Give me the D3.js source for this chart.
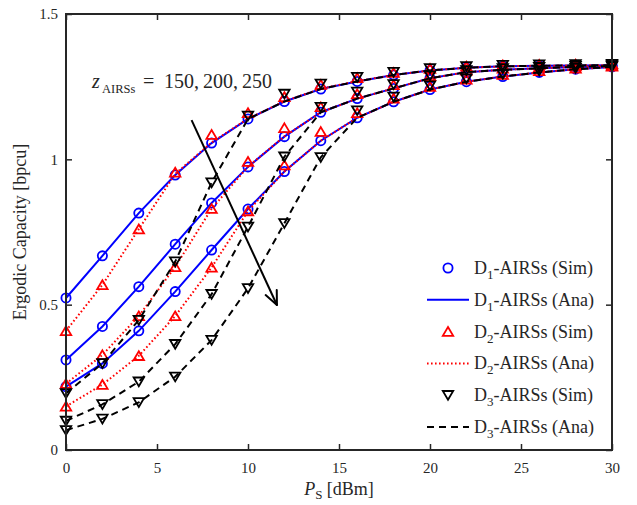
<!DOCTYPE html>
<html>
<head>
  <meta charset="utf-8">
  <title>Ergodic Capacity</title>
  <script src="https://d3js.org/d3.v7.min.js"></script>
  <style>
    body { margin: 0; background: #fff; }
    text { font-family: "Liberation Serif", "Times New Roman", serif; fill: #262626; }
  </style>
</head>
<body>

  <svg width="637" height="505"></svg>

  <script>

    // Transmit power samples (dBm)
    const powerDbm = [0, 2, 4, 6, 8, 10, 12, 14, 16, 18, 20, 22, 24, 26, 28, 30];

    // Tick labels
    const xTicks = [0, 5, 10, 15, 20, 25, 30];
    const yTicks = [0, 0.5, 1, 1.5];

    // D1-AIRSs, analysis and simulation coincide, z = 150, 200, 250
    const d1Z150 = [0.523, 0.668, 0.815, 0.946, 1.056, 1.139, 1.199, 1.242, 1.268, 1.290, 1.306, 1.315, 1.320, 1.322, 1.323, 1.324];
    const d1Z200 = [0.310, 0.425, 0.562, 0.708, 0.850, 0.974, 1.078, 1.162, 1.209, 1.244, 1.279, 1.300, 1.308, 1.313, 1.318, 1.321];
    const d1Z250 = [0.218, 0.298, 0.410, 0.545, 0.688, 0.829, 0.958, 1.064, 1.143, 1.198, 1.240, 1.267, 1.285, 1.299, 1.310, 1.318];

    // D2-AIRSs analysis
    const d2AnaZ150 = [0.410, 0.568, 0.760, 0.950, 1.058, 1.140, 1.200, 1.243, 1.269, 1.290, 1.306, 1.315, 1.320, 1.322, 1.323, 1.324];
    const d2AnaZ200 = [0.228, 0.327, 0.461, 0.630, 0.830, 0.975, 1.079, 1.162, 1.209, 1.244, 1.279, 1.300, 1.308, 1.313, 1.318, 1.321];
    const d2AnaZ250 = [0.150, 0.225, 0.324, 0.461, 0.628, 0.822, 0.958, 1.064, 1.143, 1.198, 1.240, 1.267, 1.285, 1.299, 1.310, 1.318];
    // D2-AIRSs simulation
    const d2SimZ150 = [0.410, 0.568, 0.760, 0.955, 1.085, 1.160, 1.215, 1.257, 1.280, 1.298, 1.312, 1.320, 1.324, 1.326, 1.327, 1.328];
    const d2SimZ200 = [0.228, 0.327, 0.461, 0.630, 0.830, 0.992, 1.108, 1.180, 1.225, 1.256, 1.287, 1.306, 1.313, 1.317, 1.321, 1.323];
    const d2SimZ250 = [0.150, 0.225, 0.324, 0.461, 0.628, 0.822, 0.980, 1.095, 1.160, 1.210, 1.250, 1.275, 1.291, 1.304, 1.313, 1.320];

    // D3-AIRSs analysis
    const d3AnaZ150 = [0.195, 0.298, 0.447, 0.648, 0.920, 1.139, 1.199, 1.242, 1.268, 1.290, 1.306, 1.315, 1.320, 1.322, 1.323, 1.324];
    const d3AnaZ200 = [0.100, 0.157, 0.235, 0.364, 0.536, 0.768, 1.009, 1.162, 1.209, 1.244, 1.279, 1.300, 1.308, 1.313, 1.318, 1.321];
    const d3AnaZ250 = [0.068, 0.107, 0.164, 0.252, 0.378, 0.556, 0.780, 1.007, 1.143, 1.198, 1.240, 1.267, 1.285, 1.299, 1.310, 1.318];
    // D3-AIRSs simulation
    const d3SimZ150 = [0.195, 0.298, 0.447, 0.648, 0.920, 1.150, 1.225, 1.260, 1.283, 1.300, 1.313, 1.320, 1.324, 1.326, 1.327, 1.328];
    const d3SimZ200 = [0.100, 0.157, 0.235, 0.364, 0.536, 0.768, 1.009, 1.180, 1.232, 1.258, 1.288, 1.306, 1.313, 1.317, 1.321, 1.323];
    const d3SimZ250 = [0.068, 0.107, 0.164, 0.252, 0.378, 0.556, 0.780, 1.007, 1.168, 1.215, 1.254, 1.278, 1.293, 1.305, 1.314, 1.320];

    const legendLabels = ["1", "1", "2", "2", "3", "3"];

    const groups = [
      { id: "1", color: "#0000ff", marker: "circle", dash: null, width: 2,
        sim: [d1Z150, d1Z200, d1Z250], ana: [d1Z150, d1Z200, d1Z250] },
      { id: "2", color: "#ff0000", marker: "up", dash: "1.6,2.4", width: 2,
        sim: [d2SimZ150, d2SimZ200, d2SimZ250], ana: [d2AnaZ150, d2AnaZ200, d2AnaZ250] },
      { id: "3", color: "#000000", marker: "down", dash: "7,5", width: 2,
        sim: [d3SimZ150, d3SimZ200, d3SimZ250], ana: [d3AnaZ150, d3AnaZ200, d3AnaZ250] }
    ];

    // Plot box in pixels
    const margin = { top: 14, right: 25, bottom: 55, left: 66 };
    const width = 637, height = 505;
    const svg = d3.select("svg");

    const x = d3.scaleLinear().domain([0, 30]).range([margin.left, width - margin.right]);
    const y = d3.scaleLinear().domain([0, 1.5]).range([height - margin.bottom, margin.top]);

    const axisColor = "#262626";

    // Marker shapes (centred on bounding box, like MATLAB)
    function markerPath(type) {
      if (type === "up") return "M0,-4.6L5.2,4.2L-5.2,4.2Z";
      if (type === "down") return "M0,4.6L5.2,-4.2L-5.2,-4.2Z";
      return null;
    }

    function drawMarkers(g, type, color, px, py) {
      if (type === "circle") {
        g.append("circle").attr("cx", px).attr("cy", py).attr("r", 4.6)
          .attr("fill", "none").attr("stroke", color).attr("stroke-width", 1.8);
      } else {
        g.append("path").attr("transform", `translate(${px},${py})`)
          .attr("d", markerPath(type))
          .attr("fill", "none").attr("stroke", color).attr("stroke-width", 1.8)
          .attr("stroke-linejoin", "miter");
      }
    }

    const line = d3.line()
      .x((d, i) => x(powerDbm[i]))
      .y(d => y(d));

    const plot = svg.append("g");

    // Simulation markers then analysis lines, per scheme
    groups.forEach(gr => {
      const mg = plot.append("g");
      gr.sim.forEach(series => {
        series.forEach((v, i) => drawMarkers(mg, gr.marker, gr.color, x(powerDbm[i]), y(v)));
      });
      gr.ana.forEach(series => {
        plot.append("path")
          .datum(series)
          .attr("fill", "none")
          .attr("stroke", gr.color)
          .attr("stroke-width", gr.width)
          .attr("stroke-dasharray", gr.dash)
          .attr("d", line);
      });
    });

    // Axes with inward ticks on all four sides
    const fmt = d3.format("~g");
    const axB = svg.append("g").attr("transform", `translate(0,${y(0)})`)
      .call(d3.axisBottom(x).tickValues(xTicks).tickFormat(fmt).tickSizeInner(-6).tickSizeOuter(0).tickPadding(12));
    const axT = svg.append("g").attr("transform", `translate(0,${y(1.5)})`)
      .call(d3.axisTop(x).tickValues(xTicks).tickFormat("").tickSizeInner(-6).tickSizeOuter(0));
    const axL = svg.append("g").attr("transform", `translate(${x(0)},0)`)
      .call(d3.axisLeft(y).tickValues(yTicks).tickFormat(fmt).tickSizeInner(-6).tickSizeOuter(0).tickPadding(8));
    const axR = svg.append("g").attr("transform", `translate(${x(30)},0)`)
      .call(d3.axisRight(y).tickValues(yTicks).tickFormat("").tickSizeInner(-6).tickSizeOuter(0));

    [axB, axT, axL, axR].forEach(a => {
      a.selectAll(".domain").remove();
      a.selectAll(".tick line").attr("stroke", axisColor).attr("stroke-width", 1.5);
      a.selectAll(".tick text").attr("fill", axisColor)
        .style("font-family", "'Liberation Serif', serif").style("font-size", "15px");
    });

    svg.append("rect")
      .attr("x", x(0)).attr("y", y(1.5))
      .attr("width", x(30) - x(0)).attr("height", y(0) - y(1.5))
      .attr("fill", "none").attr("stroke", axisColor).attr("stroke-width", 2);

    // Axis labels
    svg.append("text")
      .attr("transform", `translate(26,${(y(0) + y(1.5)) / 2}) rotate(-90)`)
      .attr("text-anchor", "middle")
      .style("font-size", "18px")
      .text("Ergodic Capacity [bpcu]");

    const xl = svg.append("text")
      .attr("x", (x(0) + x(30)) / 2).attr("y", 495)
      .attr("text-anchor", "middle")
      .style("font-size", "18px");
    xl.append("tspan").style("font-style", "italic").text("P");
    xl.append("tspan").attr("dy", 4).style("font-size", "13px").text("S");
    xl.append("tspan").attr("dy", -4).text(" [dBm]");

    // Annotation
    const ann = svg.append("text").attr("y", 88).style("font-size", "20px");
    ann.append("tspan").attr("x", 92).style("font-style", "italic").text("z");
    ann.append("tspan").attr("x", 102).attr("dy", 5).style("font-size", "12.5px").text("AIRSs");
    ann.append("tspan").attr("x", 143).attr("dy", -5).text("=");
    ann.append("tspan").attr("x", 164).text("150,\u2009200,\u2009250");

    // Arrow across the z curves
    const a0 = [x(6.9), y(1.135)], a1 = [x(11.59), y(0.499)];
    svg.append("line")
      .attr("x1", a0[0]).attr("y1", a0[1]).attr("x2", a1[0]).attr("y2", a1[1])
      .attr("stroke", "#000").attr("stroke-width", 2);
    const ang = Math.atan2(a1[1] - a0[1], a1[0] - a0[0]);
    const headLen = 15, headAng = 0.42;
    [ang + Math.PI - headAng, ang + Math.PI + headAng].forEach(t => {
      svg.append("line")
        .attr("x1", a1[0]).attr("y1", a1[1])
        .attr("x2", a1[0] + headLen * Math.cos(t)).attr("y2", a1[1] + headLen * Math.sin(t))
        .attr("stroke", "#000").attr("stroke-width", 2).attr("stroke-linecap", "round");
    });

    // Legend
    const legendRows = [];
    groups.forEach(gr => {
      legendRows.push({ gr, kind: "Sim" });
      legendRows.push({ gr, kind: "Ana" });
    });
    const legend = svg.append("g");
    legendRows.forEach((r, i) => {
      const cy = 268 + i * 31.8;
      if (r.kind === "Sim") {
        drawMarkers(legend, r.gr.marker, r.gr.color, 448, cy);
      } else {
        legend.append("line").attr("x1", 427).attr("x2", 469).attr("y1", cy).attr("y2", cy)
          .attr("stroke", r.gr.color).attr("stroke-width", r.gr.width)
          .attr("stroke-dasharray", r.gr.dash);
      }
      const t = legend.append("text").attr("x", 474).attr("y", cy + 6).style("font-size", "18px");
      t.append("tspan").text("D");
      t.append("tspan").attr("dy", 5).style("font-size", "13px").text(legendLabels[i]);
      t.append("tspan").attr("dy", -5).text(`-AIRSs (${r.kind})`);
    });

  </script>

</body>
</html>
